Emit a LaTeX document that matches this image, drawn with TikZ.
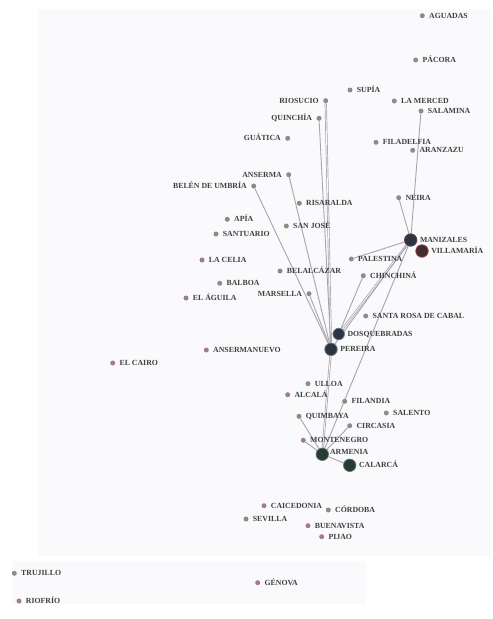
\documentclass[tikz,border=0pt]{standalone}
\usepackage{fontspec}
\setmainfont{Liberation Serif}
\usetikzlibrary{backgrounds}
\definecolor{bgcol}{RGB}{250,249,251}
\definecolor{edgecol}{RGB}{168,163,176}
\definecolor{lblgray}{RGB}{64,64,64}
\definecolor{tg}{RGB}{140,140,140}
\definecolor{tv}{RGB}{128,146,124}
\definecolor{tp}{RGB}{160,124,140}
\definecolor{cityslate}{RGB}{44,54,66}
\definecolor{citygreen}{RGB}{40,60,54}
\definecolor{cityred}{RGB}{66,46,48}
\definecolor{ringred}{RGB}{150,70,70}
\tikzset{
  town/.style={circle, inner sep=0pt, minimum size=5pt},
  city/.style={circle, inner sep=0pt, minimum size=12.5pt, line width=0.7pt},
  lbl/.style={font=\bfseries\fontsize{7.8}{8}\selectfont, text=lblgray, inner sep=0.5pt, text height=5.3pt, text depth=0pt},
  edge/.style={draw=edgecol, line width=0.9pt},
  twoway/.style={draw=edgecol, line width=0.7pt, double=bgcol, double distance=0.8pt},
}

\begin{document}
\begin{tikzpicture}[x=1pt, y=-1pt, label distance=3.5pt]
  \useasboundingbox (0,0) rectangle (493,619);

  % Small municipalities
  \foreach \name/\x/\y/\side/\tint/\txt in {
    aguadas/422.3/15.7/right/tg/AGUADAS, pacora/415.7/60/right/tg/PÁCORA,
    supia/350/90/right/tg/SUPÍA, riosucio/325.7/100.7/left/tg/RIOSUCIO,
    lamerced/394.3/101/right/tg/LA MERCED, salamina/421/111/right/tg/SALAMINA,
    quinchia/319/118.3/left/tv/QUINCHÍA, guatica/287.7/138.3/left/tg/GUÁTICA,
    filadelfia/376/142.3/right/tg/FILADELFIA, aranzazu/412.7/150.3/right/tg/ARANZAZU,
    anserma/288.7/174.7/left/tg/ANSERMA, belen/253.7/186/left/tv/BELÉN DE UMBRÍA,
    neira/398.7/197.7/right/tg/NEIRA, risaralda/299.3/203.3/right/tv/RISARALDA,
    apia/227.3/219.3/right/tv/APÍA, sanjose/286.3/226/right/tv/SAN JOSÉ,
    santuario/216/234/right/tv/SANTUARIO, palestina/351.3/259/right/tg/PALESTINA,
    lacelia/202/260/right/tp/LA CELIA, chinchina/363.3/275.7/right/tg/CHINCHINÁ,
    belalcazar/280/271/right/tg/BELALCÁZAR, balboa/219.7/283.3/right/tg/BALBOA,
    marsella/309/293.7/left/tv/MARSELLA, elaguila/186/298/right/tp/EL ÁGUILA,
    santarosa/365.7/316/right/tg/SANTA ROSA DE CABAL,
    ansermanuevo/206.3/350/right/tp/ANSERMANUEVO, elcairo/112.7/363/right/tp/EL CAIRO,
    ulloa/308/383.7/right/tg/ULLOA, alcala/287.7/394.7/right/tp/ALCALÁ,
    filandia/344.7/401.3/right/tv/FILANDIA, salento/386.3/413/right/tg/SALENTO,
    quimbaya/299/416.3/right/tv/QUIMBAYA, circasia/349.7/425.7/right/tg/CIRCASIA,
    montenegro/303.3/440.3/right/tp/MONTENEGRO,
    caicedonia/264/505.7/right/tp/CAICEDONIA, cordoba/328.3/510/right/tv/CÓRDOBA,
    sevilla/246/519/right/tv/SEVILLA, buenavista/308/525.7/right/tp/BUENAVISTA,
    pijao/321.7/536.7/right/tp/PIJAO, trujillo/14.3/573.3/right/tg/TRUJILLO,
    genova/257.7/582.7/right/tp/GÉNOVA, riofrio/19/601/right/tp/RIOFRÍO}
    \node[town, fill=\tint, label={[lbl]\side:\txt}] (\name) at (\x,\y) {};

  % Cities
  \begin{scope}[label distance=2pt]
    \node[city, fill=cityslate, draw=ringred!60!cityslate, label={[lbl]right:MANIZALES}] (manizales) at (410.7,240) {};
    \node[city, fill=cityred, draw=ringred, label={[lbl]right:VILLAMARÍA}] (villamaria) at (422,251) {};
    \node[city, fill=cityslate, draw=cityslate!70, minimum size=11.5pt, label={[lbl]right:DOSQUEBRADAS}] (dosquebradas) at (338.7,334) {};
    \node[city, fill=cityslate, draw=cityslate!70, label={[lbl]right:PEREIRA}] (pereira) at (331,349.3) {};
    \node[city, fill=citygreen, draw=citygreen!70, label={[lbl, xshift=-1.5pt, yshift=2pt]right:ARMENIA}] (armenia) at (322.3,454.3) {};
    \node[city, fill=citygreen, draw=citygreen!70, label={[lbl]right:CALARCÁ}] (calarca) at (349.7,465.3) {};
  \end{scope}

  \begin{scope}[on background layer]
    % Backdrop
    \fill[bgcol] (38,9) rectangle (490,556);
    \fill[bgcol] (12,561) rectangle (366,604);
    % Links
    \draw[twoway] (riosucio) -- (pereira);
    \draw[edge] (quinchia) -- (pereira);
    \draw[edge] (anserma) -- (pereira);
    \draw[edge] (belen) -- (pereira);
    \draw[edge] (marsella) -- (pereira);
    \draw[edge] (salamina) -- (manizales);
    \draw[edge] (neira) -- (manizales);
    \draw[edge] (palestina) -- (manizales);
    \draw[edge] (chinchina) -- (dosquebradas);
    \draw[twoway] (manizales) -- (dosquebradas);
    \draw[edge] (manizales) -- (pereira);
    \draw[edge] (manizales) -- (armenia);
    \draw[twoway] (pereira) -- (armenia);
    \draw[edge] (quimbaya) -- (armenia);
    \draw[edge] (montenegro) -- (armenia);
    \draw[edge] (circasia) -- (armenia);
    \draw[edge] (armenia) -- (calarca);
  \end{scope}
\end{tikzpicture}
\end{document}
